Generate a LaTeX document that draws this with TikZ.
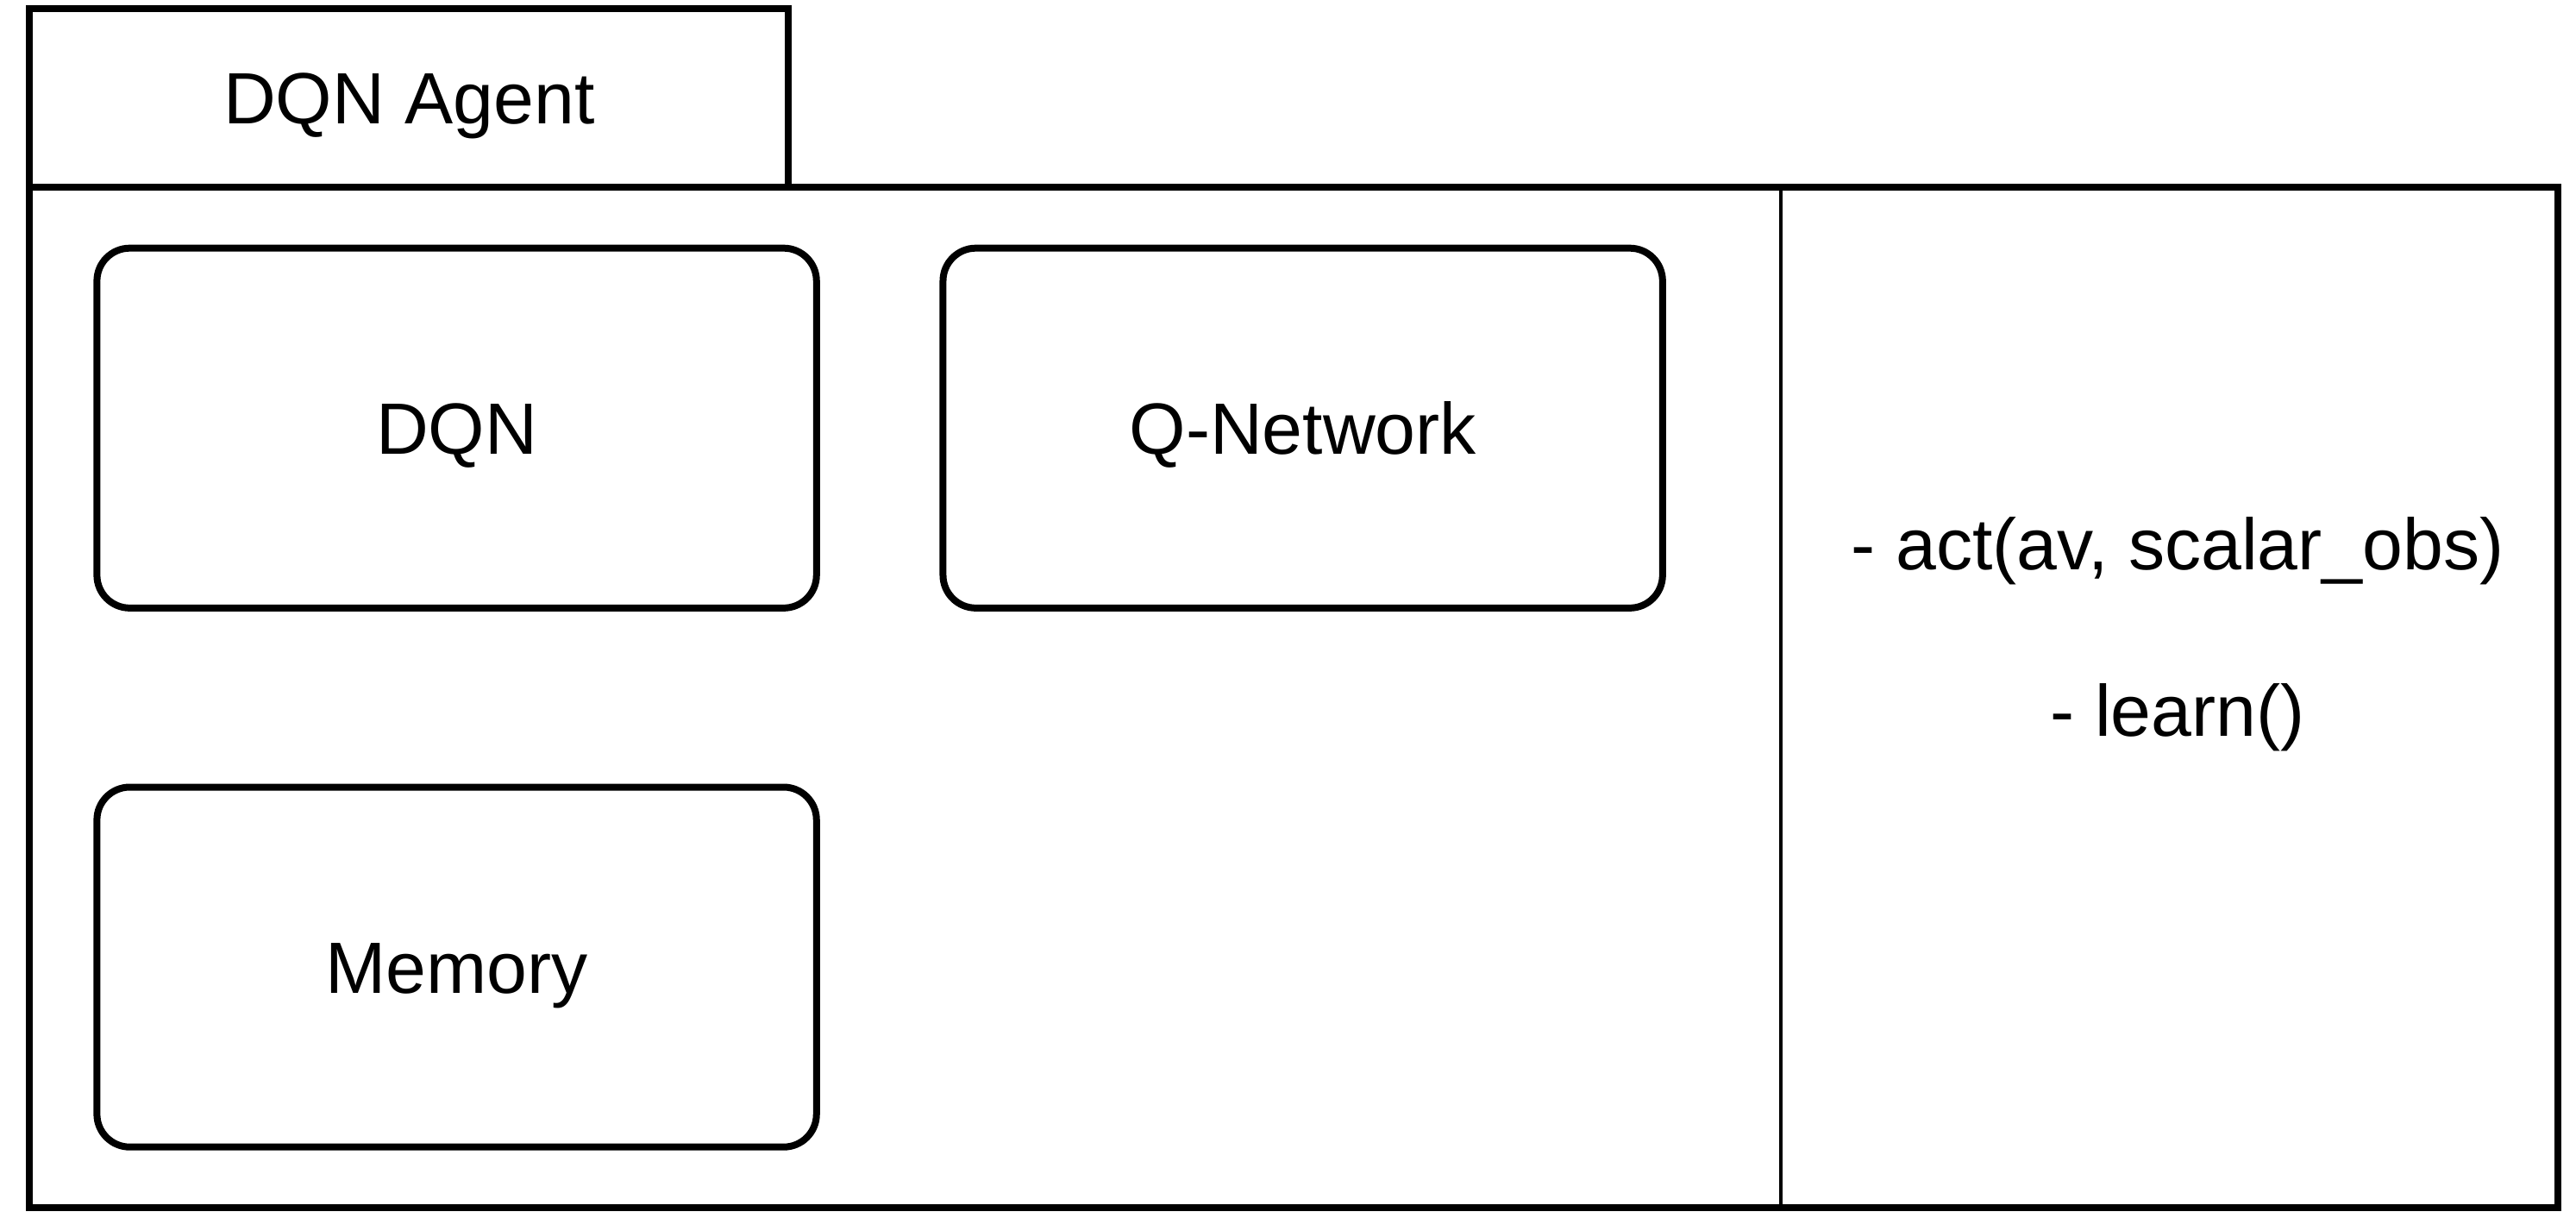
\documentclass[tikz,border=0pt]{standalone}
\usepackage{fontspec}
\setmainfont{Liberation Sans}
\begin{document}
\begin{tikzpicture}[x=0.5pt,y=-0.5pt,
  frame/.style={draw, line width=2.1pt, inner sep=0pt, outer sep=0pt},
  txt/.style={font=\fontsize{22.1}{26}\selectfont, text height=15.8pt, text depth=0pt},
  roundbox/.style={frame, txt, rounded corners=10pt, minimum width=219pt, minimum height=109.5pt},
  lbl/.style={txt, inner sep=0pt}]
\useasboundingbox (0,0) rectangle (1568,741);
% outer container
\node[frame, minimum width=769.5pt, minimum height=310.5pt] (main) at (787.5,424.5) {};
\node[frame, txt, minimum width=231pt, minimum height=54.5pt] (tab) at (249,59.5) {DQN Agent};
% divider
\coordinate (divx) at (1084,0);
\draw[line width=1.05pt] (main.north -| divx) -- (main.south -| divx);
% inner components
\node[roundbox] (dqn) at (278,260.5) {DQN};
\node[roundbox] (qnet) at (793,260.5) {Q-Network};
\node[roundbox] (mem) at (278,588.5) {Memory};
% methods
\node[lbl] (act) at (1325.5,331) {- act(av, scalar\_obs)};
\node[lbl] (learn) at (1325.5,432) {- learn()};
\end{tikzpicture}
\end{document}
